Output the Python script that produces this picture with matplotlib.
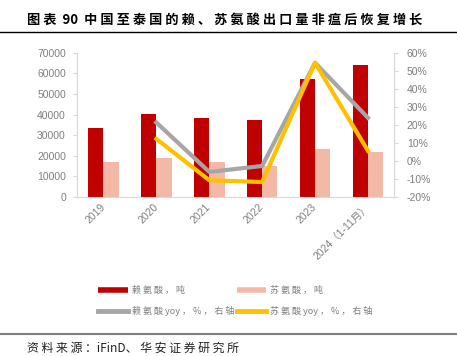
import numpy as np
import matplotlib
matplotlib.use('Agg')
from matplotlib import pyplot as plt
from matplotlib.lines import Line2D

plt.rcParams['font.family'] = ['Liberation Sans', 'Noto Sans CJK SC', 'DejaVu Sans']
cjk = ['Noto Sans CJK SC', 'DejaVu Sans']

# 数据
years = ['2019', '2020', '2021', '2022', '2023', '2024（1-11月）']
lysine = [33700, 40500, 38200, 37300, 57200, 63900]        # 赖氨酸，吨
threonine = [17000, 19000, 17000, 15100, 23200, 22000]     # 苏氨酸，吨
lysine_yoy = [np.nan, 21.3, -6.1, -2.8, 54.4, 23.9]        # %
threonine_yoy = [np.nan, 12.2, -10.7, -11.7, 54.4, 5.6]    # %

red = '#C00000'
pink = '#F4B9A6'
grey = '#A6A6A6'
yellow = '#FFC000'
axis_c = '#D9D9D9'
lab_c = '#7F7F7F'


def spaced(s):
    # 中文字符之间加空格，模仿原图的字距
    out = ''
    for i, ch in enumerate(s):
        out += ch
        if i < len(s) - 1 and ch != ' ' and s[i + 1] != ' ' and (ord(ch) > 127 or ord(s[i + 1]) > 127):
            out += ' '
    return out


fig = plt.figure(figsize=(4.57, 3.56), dpi=100)
ax = fig.add_axes([0.1685, 0.4466, 0.6945, 0.4054])
x = np.arange(len(years))
w = 0.29
ax.bar(x - w / 2, lysine, w, color=red, zorder=2)
ax.bar(x + w / 2, threonine, w, color=pink, zorder=2)
ax.set_xlim(-0.5, 5.5)
ax.set_ylim(0, 70000)
ax.set_yticks(range(0, 70001, 10000))
ax.set_xticks(x)
ax.set_xticklabels(years, rotation=45, ha='right', va='center', rotation_mode='anchor')
for s in ['top', 'right']:
    ax.spines[s].set_visible(False)
ax.spines['left'].set_color(axis_c)
ax.spines['bottom'].set_color(axis_c)
ax.tick_params(axis='y', length=3, color=axis_c, labelcolor=lab_c, labelsize=7.5, pad=5)
ax.tick_params(axis='x', length=0, labelcolor=lab_c, labelsize=7.5, pad=6)

ax2 = ax.twinx()
ax2.plot(x, lysine_yoy, color=grey, lw=3)
ax2.plot(x, threonine_yoy, color=yellow, lw=3)
ax2.set_ylim(-20, 60)
ax2.set_yticks(range(-20, 61, 10))
ax2.set_yticklabels(['%d%%' % v for v in range(-20, 61, 10)])
for s in ['top', 'left', 'bottom']:
    ax2.spines[s].set_visible(False)
ax2.spines['right'].set_color(axis_c)
ax2.tick_params(axis='y', length=3, color=axis_c, labelcolor=lab_c, labelsize=7.5, pad=6)

handles = [Line2D([], [], color=red, lw=4, solid_capstyle='butt'),
           Line2D([], [], color=grey, lw=3.5),
           Line2D([], [], color=pink, lw=4, solid_capstyle='butt'),
           Line2D([], [], color=yellow, lw=3.5)]
labels = [spaced('赖氨酸，吨'), spaced('赖氨酸yoy，%，右轴'),
          spaced('苏氨酸，吨'), spaced('苏氨酸yoy，%，右轴')]
leg = fig.legend(handles, labels, ncol=2, loc='upper left', bbox_to_anchor=(0.205, 0.21),
                 frameon=False, prop={'family': cjk, 'size': 6.5}, handlelength=3.3,
                 handletextpad=0.4, columnspacing=0.3, labelspacing=1.25, borderpad=0)
for t in leg.get_texts():
    t.set_color(lab_c)

# 标题、分隔线、来源
fig.text(0.059, 0.945, spaced('图表') + '  90  ' + spaced('中国至泰国的赖、苏氨酸出口量非瘟后恢复增长'),
         fontsize=9.5, fontweight='bold', va='center', ha='left', family=cjk)
fig.add_artist(Line2D([0, 1], [0.909, 0.909], color='black', lw=1))
fig.add_artist(Line2D([0, 1], [0.061, 0.061], color='#7F7F7F', lw=1.5))
fig.text(0.059, 0.022, spaced('资料来源：') + 'iFinD' + spaced('、华安证券研究所'),
         fontsize=8.6, va='center', ha='left', color='#222222', family=cjk)

fig.savefig('out.png', dpi=100)
